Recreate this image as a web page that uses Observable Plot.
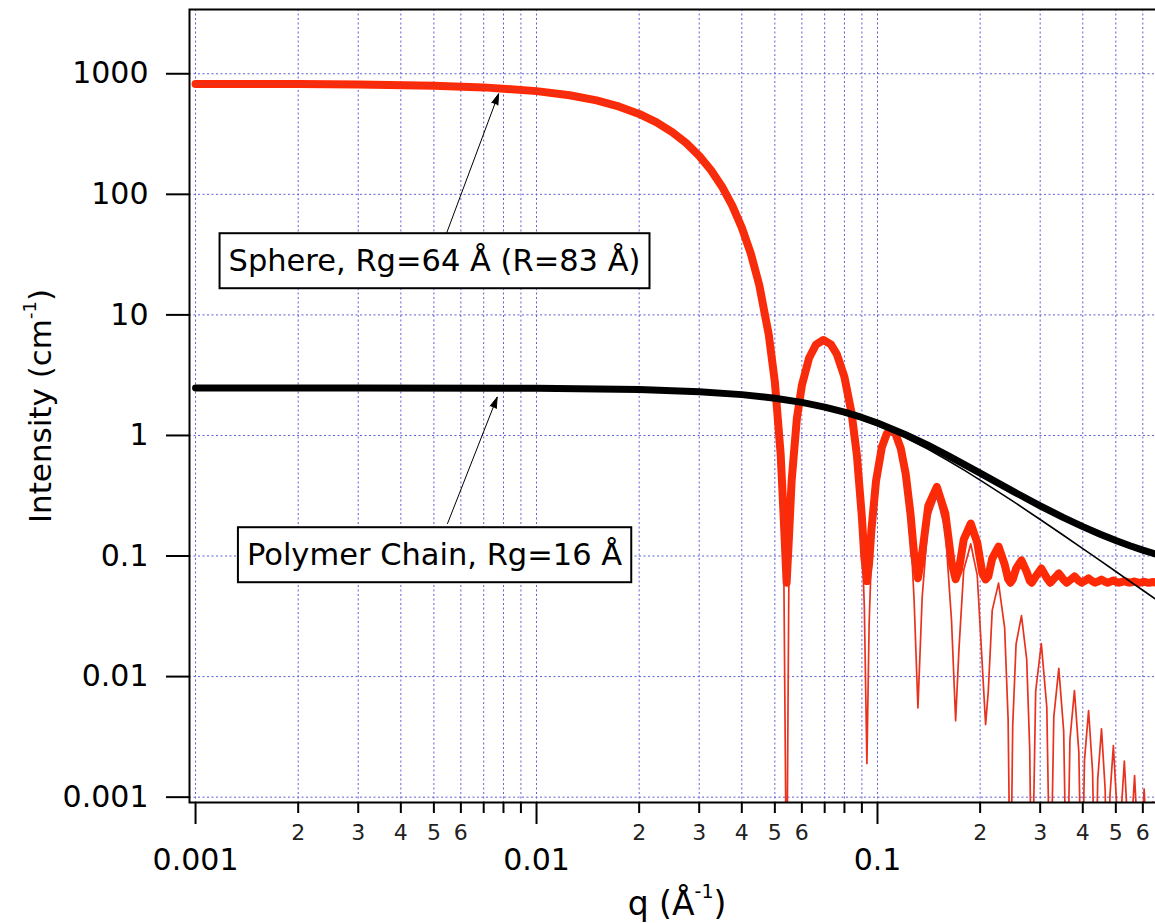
<!DOCTYPE html>
<html>
<head>
<meta charset="utf-8">
<script src="https://cdn.jsdelivr.net/npm/d3@7"></script>
<script src="https://cdn.jsdelivr.net/npm/@observablehq/plot@0.6"></script>
<style>
  html, body { margin: 0; padding: 0; background: #ffffff; }
  #chart svg { display: block; }
</style>
</head>
<body>
<div id="chart"></div>
<script>
// ---------- Sphere (R = 83 Å): q, thin curve (no background), thick curve (with background) ----------
const sphereQ = [
  0.001, 0.002, 0.003, 0.005, 0.007, 0.01, 0.0125, 0.015, 0.0175, 0.02, 0.0225, 0.025,
  0.0275, 0.03, 0.0325, 0.035, 0.0375, 0.04, 0.0425, 0.045, 0.048, 0.05, 0.052, 0.053,
  0.05414, 0.055, 0.056, 0.058, 0.06, 0.063, 0.066, 0.0694, 0.073, 0.076, 0.08, 0.084, 0.087, 0.09, 0.0915, 0.0931,
  0.0945, 0.096, 0.099, 0.103, 0.1065, 0.1096, 0.113, 0.117, 0.121, 0.125, 0.128, 0.1314,
  0.1352, 0.1409, 0.1493, 0.1581, 0.1649, 0.1695,
  0.1733, 0.1790, 0.1877, 0.1961, 0.2029, 0.2075,
  0.2113, 0.2170, 0.2265, 0.2360, 0.2416, 0.2454,
  0.2492, 0.2549, 0.2644, 0.2739, 0.2796, 0.2834,
  0.2910, 0.3023, 0.3137, 0.3213,
  0.3289, 0.3402, 0.3516, 0.3592,
  0.3668, 0.3781, 0.3895, 0.3971,
  0.4046, 0.4160, 0.4274, 0.4349,
  0.4425, 0.4539, 0.4653, 0.4728,
  0.4804, 0.4918, 0.5031, 0.5107,
  0.5183, 0.5296, 0.5410, 0.5486,
  0.5561, 0.5675, 0.5789, 0.5864,
  0.5940, 0.6054, 0.6167, 0.6243,
  0.6319, 0.6432, 0.6546, 0.6621
];
const sphereThin = [
  823.9, 820.5, 814.8, 797.0, 770.9, 717.8, 662.9, 602.2, 533.7, 464.3, 395.0, 328.1,
  265.4, 208.4, 158.3, 115.6, 80.54, 52.93, 32.23, 17.61, 6.745, 2.719, 0.6398, 0.1688,
  0.0001, 0.0842, 0.3597, 1.311, 2.533, 4.331, 5.605, 6.132, 5.639, 4.650, 2.988, 1.457, 0.6286, 0.1499, 0.03735, 0.0019,
  0.02685, 0.1049, 0.3578, 0.7413, 0.9765, 1.045, 0.9670, 0.7224, 0.4187, 0.1620, 0.04417, 0.0055,
  0.04508, 0.1999, 0.3141, 0.1650, 0.02882, 0.0043,
  0.01665, 0.07657, 0.1260, 0.06953, 0.01255, 0.004,
  0.007523, 0.03540, 0.05964, 0.02530, 0.004394, 0.0001,
  0.003881, 0.01856, 0.03208, 0.01393, 0.002450, 0.0001,
  0.007556, 0.01876, 0.005590, 0.0001,
  0.004628, 0.01169, 0.003541, 0.0001,
  0.002991, 0.007661, 0.002351, 0.0001,
  0.002018, 0.005227, 0.001622, 0.0001,
  0.001411, 0.003689, 0.001154, 0.0001,
  0.001016, 0.002677, 0.000844, 0.0001,
  0.000750, 0.001989, 0.000631, 0.0001,
  0.000565, 0.001509, 0.000482, 0.0001,
  0.000434, 0.001165, 0.000374, 0.0001,
  0.000339, 0.000914, 0.000294, 0.0001
];
const sphereThick = [
  823.96, 820.56, 814.86, 797.06, 770.96, 717.86, 662.96, 602.26, 533.76, 464.36, 395.06, 328.16,
  265.46, 208.46, 158.36, 115.66, 80.60, 52.99, 32.29, 17.67, 6.805, 2.779, 0.6998, 0.2288,
  0.0601, 0.1442, 0.4197, 1.371, 2.593, 4.391, 5.665, 6.192, 5.699, 4.710, 3.048, 1.517, 0.6886, 0.2099, 0.09735, 0.0619,
  0.08685, 0.1649, 0.4178, 0.8013, 1.0365, 1.105, 1.027, 0.7824, 0.4787, 0.2220, 0.10417, 0.0655,
  0.10508, 0.2599, 0.3741, 0.2250, 0.08882, 0.0643,
  0.07665, 0.13657, 0.1860, 0.12953, 0.07255, 0.064,
  0.06752, 0.0954, 0.11964, 0.0853, 0.06439, 0.0601,
  0.06388, 0.07856, 0.09208, 0.07393, 0.06245, 0.0601,
  0.06756, 0.07876, 0.06559, 0.0601,
  0.06463, 0.07169, 0.06354, 0.0601,
  0.06299, 0.06766, 0.06235, 0.0601,
  0.06202, 0.06523, 0.06162, 0.0601,
  0.06141, 0.06369, 0.06115, 0.0601,
  0.06102, 0.06268, 0.06084, 0.0601,
  0.06075, 0.06199, 0.06063, 0.0601,
  0.06057, 0.06151, 0.06048, 0.0601,
  0.06043, 0.06117, 0.06037, 0.0601,
  0.06034, 0.06091, 0.06029, 0.0601
];

// ---------- Polymer chain (Rg = 16 Å) ----------
const chainQ = [0.001, 0.003, 0.01, 0.02, 0.03, 0.04, 0.05, 0.06, 0.07, 0.08, 0.09, 0.1,
  0.12, 0.14, 0.16, 0.18, 0.2, 0.25, 0.3, 0.35, 0.4, 0.45, 0.5, 0.55, 0.6, 0.66];
const chainThin = [2.42, 2.418, 2.399, 2.340, 2.244, 2.121, 1.977, 1.821, 1.660, 1.501, 1.350, 1.209,
  0.966, 0.774, 0.626, 0.513, 0.4265, 0.2836, 0.201, 0.1494, 0.1153, 0.0916, 0.0744, 0.0617, 0.0520, 0.0430];
const chainThick = [2.48, 2.478, 2.459, 2.400, 2.304, 2.181, 2.037, 1.881, 1.720, 1.561, 1.410, 1.269,
  1.026, 0.834, 0.686, 0.573, 0.4865, 0.3436, 0.261, 0.2094, 0.1753, 0.1516, 0.1344, 0.1217, 0.112, 0.103];

// ---------- Ticks ----------
const xMajorTicks = [0.001, 0.01, 0.1];
const xMajorLabels = ["0.001", "0.01", "0.1"];
const xMinorTicks = [0.002, 0.003, 0.004, 0.005, 0.006, 0.007, 0.008, 0.009,
  0.02, 0.03, 0.04, 0.05, 0.06, 0.07, 0.08, 0.09,
  0.2, 0.3, 0.4, 0.5, 0.6];
const xMinorLabels = ["2", "3", "4", "5", "6", "", "", "",
  "2", "3", "4", "5", "6", "", "", "",
  "2", "3", "4", "5", "6"];
const yTicks = [0.001, 0.01, 0.1, 1, 10, 100, 1000];
const yLabels = ["0.001", "0.01", "0.1", "1", "10", "100", "1000"];

// ---------- Annotations ----------
const noteLabels = ["Sphere, Rg=64 Å (R=83 Å)", "Polymer Chain, Rg=16 Å"];
const noteQ = [0.005022, 0.005022];
const noteI = [27.75, 0.1011];
const arrowFromQ = [0.005445, 0.005483];
const arrowFromI = [47.4, 0.186];
const arrowToQ = [0.00774, 0.007667];
const arrowToI = [682, 2.078];

// ---------- Build tables ----------
const sphere = sphereQ.map((q, i) => ({q, thin: sphereThin[i], thick: sphereThick[i]}));
const chain = chainQ.map((q, i) => ({q, thin: chainThin[i], thick: chainThick[i]}));
const notes = noteLabels.map((label, i) => ({label, q: noteQ[i], I: noteI[i],
  q1: arrowFromQ[i], I1: arrowFromI[i], q2: arrowToQ[i], I2: arrowToI[i]}));
const minorTable = xMinorTicks.map((t, i) => ({t, label: xMinorLabels[i]}));
const xMajorMap = new Map(xMajorTicks.map((t, i) => [t, xMajorLabels[i]]));
const yMap = new Map(yTicks.map((t, i) => [t, yLabels[i]]));

const FONT = "'DejaVu Sans', Verdana, sans-serif";
const gridStyle = {stroke: "#5f5fd8", strokeOpacity: 1, strokeWidth: 1, strokeDasharray: "2,2.5"};

const svg = Plot.plot({
  width: 1155,
  height: 923,
  marginLeft: 189,
  marginRight: -3,
  marginTop: 9,
  marginBottom: 121,
  style: {fontFamily: FONT, fontSize: "30px", background: "#ffffff", color: "#000000"},
  x: {type: "log", domain: [0.000960, 0.667]},
  y: {type: "log", domain: [0.000903, 3412]},
  marks: [
    Plot.gridX(xMajorTicks.concat(xMinorTicks), gridStyle),
    Plot.gridY(yTicks, gridStyle),
    Plot.line(sphere, {x: "q", y: "thick", stroke: "#fe2a05", strokeWidth: 8, clip: true}),
    Plot.line(sphere, {x: "q", y: "thin", stroke: "#e8321e", strokeWidth: 1.7, clip: true}),
    Plot.line(chain, {x: "q", y: "thick", stroke: "#000000", strokeWidth: 7, clip: true}),
    Plot.line(chain, {x: "q", y: "thin", stroke: "#000000", strokeWidth: 1.6, clip: true}),
    Plot.frame({stroke: "#000000", strokeWidth: 2}),
    Plot.axisY(yTicks, {anchor: "left", tickSize: 23, tickPadding: 18, strokeWidth: 2,
      tickFormat: d => yMap.get(d), fontSize: 30, label: null}),
    Plot.axisX(xMajorTicks, {anchor: "bottom", tickSize: 22, tickPadding: 24, strokeWidth: 2,
      tickFormat: d => xMajorMap.get(d), fontSize: 30, label: null}),
    Plot.axisX(xMinorTicks, {anchor: "bottom", tickSize: 11, strokeWidth: 2, text: null, label: null}),
    Plot.text(minorTable, {x: "t", text: "label", frameAnchor: "bottom", dy: 22, lineAnchor: "top",
      fontSize: 22, fill: "#222222"}),
    Plot.arrow(notes, {x1: "q1", y1: "I1", x2: "q2", y2: "I2", stroke: "#000000", fill: "#000000",
      strokeWidth: 1, headLength: 17, headAngle: 34}),
    Plot.text(notes, {x: "q", y: "I", text: "label", fontSize: 30.5, fill: "#000000",
      textAnchor: "middle", lineAnchor: "middle"})
  ]
});

document.getElementById("chart").append(svg);

// Boxes behind the annotation labels
const s = d3.select(svg);
s.selectAll('g[aria-label="text"] text').each(function () {
  if (!noteLabels.includes(this.textContent)) return;
  const b = this.getBBox();
  const padX = 9, padY = 10;
  const rect = document.createElementNS("http://www.w3.org/2000/svg", "rect");
  rect.setAttribute("x", b.x - padX);
  rect.setAttribute("y", b.y - padY);
  rect.setAttribute("width", b.width + 2 * padX);
  rect.setAttribute("height", b.height + 2 * padY);
  rect.setAttribute("fill", "#ffffff");
  rect.setAttribute("stroke", "#000000");
  rect.setAttribute("stroke-width", 2);
  const tr = this.getAttribute("transform");
  if (tr) rect.setAttribute("transform", tr);
  this.parentNode.insertBefore(rect, this);
});

// Axis titles with superscripts
const yt = s.append("text")
  .attr("transform", "translate(51,406) rotate(-90)")
  .attr("text-anchor", "middle")
  .attr("font-family", FONT)
  .attr("font-size", 31)
  .attr("fill", "#000000");
yt.append("tspan").text("Intensity (cm");
yt.append("tspan").attr("font-size", 18).attr("dy", -15).text("-1");
yt.append("tspan").attr("dy", 15).text(")");

const xt = s.append("text")
  .attr("x", 677)
  .attr("y", 915)
  .attr("text-anchor", "middle")
  .attr("font-family", FONT)
  .attr("font-size", 33)
  .attr("fill", "#000000");
xt.append("tspan").text("q (Å");
xt.append("tspan").attr("font-size", 19).attr("dy", -17).text("-1");
xt.append("tspan").attr("dy", 17).text(")");
</script>
</body>
</html>
